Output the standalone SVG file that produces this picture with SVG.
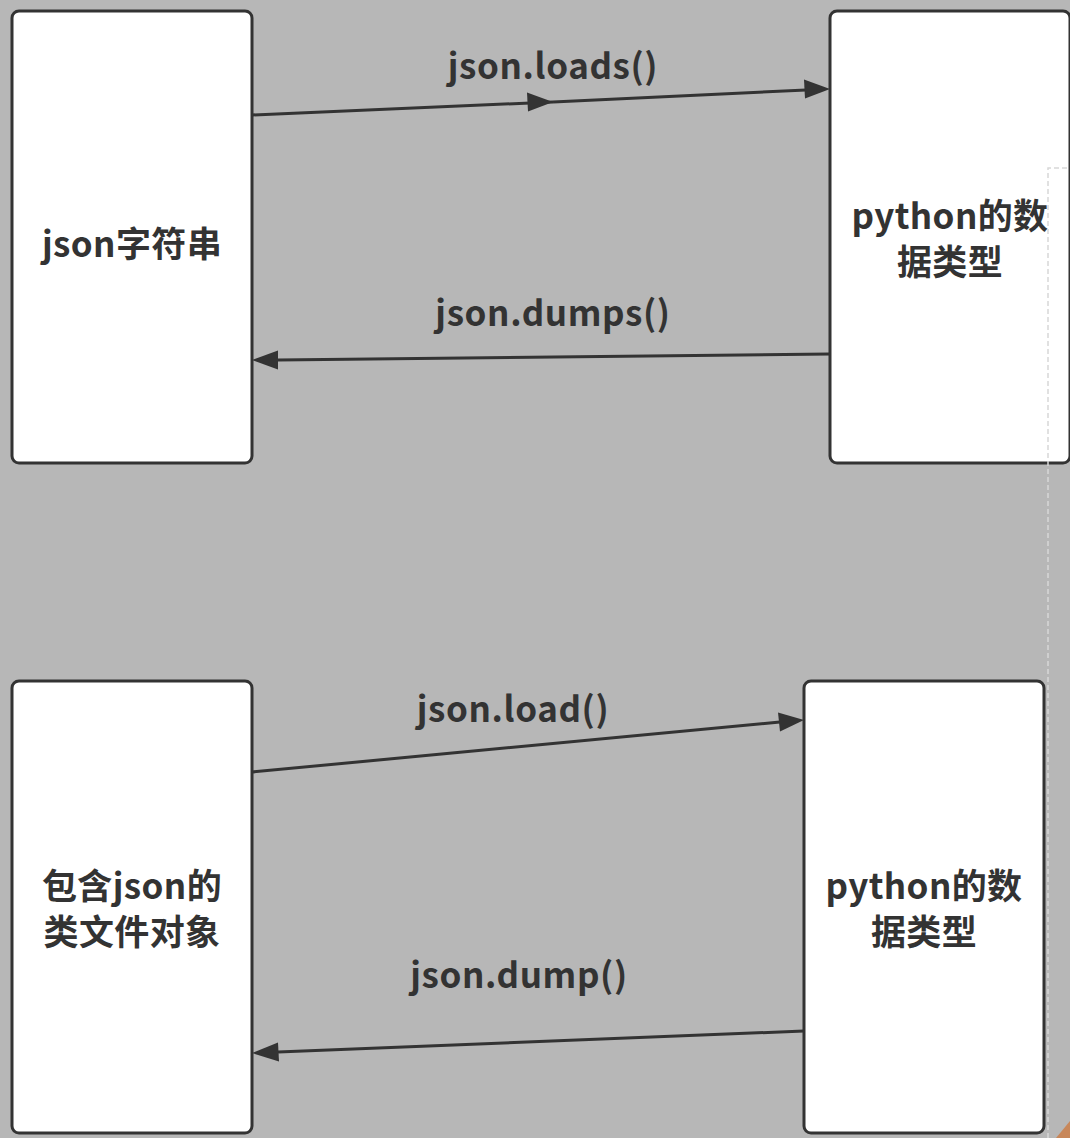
<svg xmlns="http://www.w3.org/2000/svg" width="1070" height="1138" viewBox="0 0 1070 1138">
<style>
.box{fill:#fff;stroke:#333;stroke-width:3}
.lbl{font-family:"Noto Sans CJK SC","Noto Sans",sans-serif;font-weight:bold;fill:#333;text-anchor:middle}
.edge{font-size:35px;letter-spacing:0.6px}
.node{font-size:35px;letter-spacing:0.4px}
.ln{stroke:#333;stroke-width:3;fill:none}
</style>
<rect width="1070" height="1138" fill="#b7b7b7"/>
<polygon points="1056,1138 1070,1121 1070,1138" fill="#c8875a"/>
<g id="n1"><rect class="box" x="12" y="11" width="240" height="452" rx="7"/><text class="lbl node" x="132" y="257" letter-spacing="2">json字符串</text></g>
<g id="n2"><rect class="box" x="830" y="11" width="240" height="452" rx="7"/><text class="lbl node" x="950" y="229">python的数</text><text class="lbl node" x="950" y="275">据类型</text></g>
<g id="n3"><rect class="box" x="12" y="681" width="240" height="452" rx="7"/><text class="lbl node" x="132" y="899">包含json的</text><text class="lbl node" x="132" y="945">类文件对象</text></g>
<g id="n4"><rect class="box" x="804" y="681" width="240" height="452" rx="7"/><text class="lbl node" x="924" y="899">python的数</text><text class="lbl node" x="924" y="945">据类型</text></g>
<g id="edges">
<path class="ln" d="M252,115 L553,102"/>
<path d="M553,102 l-26,-9.5 l1,19 z" fill="#333"/>
<path class="ln" d="M553,102 L806,90"/>
<path d="M830,89 l-26,-9.5 l1,19 z" fill="#333"/>
<path class="ln" d="M830,354 L278,360"/>
<path d="M252,360 l26,-9.5 l0,19 z" fill="#333"/>
<path class="ln" d="M252,772 L780,722"/>
<path d="M804,720 l-26,-7.5 l2,19 z" fill="#333"/>
<path class="ln" d="M804,1031 L278,1052"/>
<path d="M252,1053 l26,-10.5 l1,19 z" fill="#333"/>
<text class="lbl edge" x="553" y="79">json.loads()</text>
<text class="lbl edge" x="553" y="326">json.dumps()</text>
<text class="lbl edge" x="513" y="722">json.load()</text>
<text class="lbl edge" x="519" y="988">json.dump()</text>
</g>
<path d="M1048,1138 L1048,168 L1068,168" fill="none" stroke="#d8d8d8" stroke-width="1.5" stroke-dasharray="5,3"/>
</svg>
